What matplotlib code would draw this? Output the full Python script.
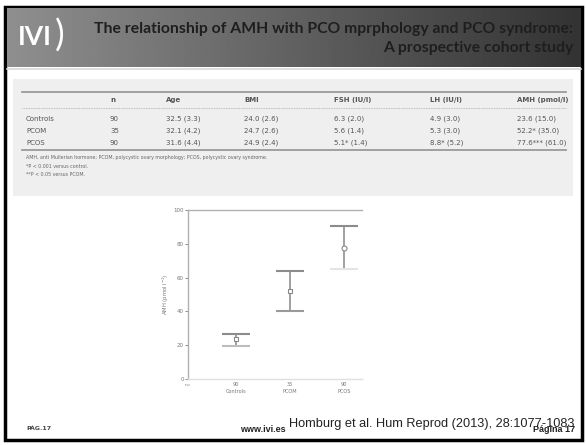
import numpy as np
import matplotlib
matplotlib.use("Agg")
import matplotlib.pyplot as plt
from matplotlib.patches import Rectangle

# ---- data ----
groups = ["Controls", "PCOM", "PCOS"]
n_values = ["90", "35", "90"]
age = ["32.5 (3.3)", "32.1 (4.2)", "31.6 (4.4)"]
bmi = ["24.0 (2.6)", "24.7 (2.6)", "24.9 (2.4)"]
fsh = ["6.3 (2.0)", "5.6 (1.4)", "5.1* (1.4)"]
lh = ["4.9 (3.0)", "5.3 (3.0)", "8.8* (5.2)"]
amh_txt = ["23.6 (15.0)", "52.2* (35.0)", "77.6*** (61.0)"]
col_headers = ["", "n", "Age", "BMI", "FSH (IU/l)", "LH (IU/l)", "AMH (pmol/l)"]

amh_median = [23.6, 52.2, 77.6]
amh_ci_low = [19.5, 40.0, 65.0]
amh_ci_high = [26.6, 64.0, 90.5]
y_ticks = [0, 20, 40, 60, 80, 100]

W, H = 586, 445
fig = plt.figure(figsize=(W / 100, H / 100), dpi=100)
bg = fig.add_axes([0, 0, 1, 1])
bg.set_xlim(0, W)
bg.set_ylim(H, 0)
bg.axis("off")

# slide frame
bg.add_patch(Rectangle((5, 7), 577, 433, facecolor="white", edgecolor="black", lw=2.5, zorder=0))

# header band with grey gradient
grad = np.linspace(0.56, 0.2, 256)[None, :]
bg.imshow(grad, cmap="gray", vmin=0, vmax=1, extent=(6.5, 580.5, 67, 8.5), aspect="auto", zorder=1)
bg.plot([6.5, 580.5], [68.5, 68.5], color="#d8d8d8", lw=1.2, zorder=2)

# logo
bg.text(18, 37, "IVI", color="white", fontsize=19, fontweight="bold", family="Lato",
        va="center", ha="left", zorder=3)
bg.text(55, 36, ")", color="white", fontsize=26, family="Lato", va="center", ha="left", zorder=3)

# title
bg.text(573, 29, "The relationship of AMH with PCO mprphology and PCO syndrome:",
        ha="right", va="center", fontsize=11.3, fontweight="bold", family="Lato", color="#1e1e1e", zorder=3)
bg.text(573, 48, "A prospective cohort study",
        ha="right", va="center", fontsize=11.3, fontweight="bold", family="Lato", color="#1e1e1e", zorder=3)

# table panel
bg.add_patch(Rectangle((13, 79), 560, 117, facecolor="#efefef", edgecolor="none", zorder=1))
bg.plot([22, 566], [92, 92], color="#9a9a9a", lw=1.3, zorder=2)
bg.plot([22, 566], [107.5, 107.5], color="#aaaaaa", lw=0.6, ls=(0, (1, 1)), zorder=2)
bg.plot([22, 566], [150, 150], color="#9a9a9a", lw=1.3, zorder=2)

col_x = [26, 110, 166, 244, 334, 430, 517]
tc = "#555555"
for x, h in zip(col_x, col_headers):
    bg.text(x, 100, h, fontsize=5, fontweight="bold", color=tc, va="center", ha="left", zorder=3)
rows_y = [119, 131, 143]
for i, y in enumerate(rows_y):
    vals = [groups[i], n_values[i], age[i], bmi[i], fsh[i], lh[i], amh_txt[i]]
    for x, v in zip(col_x, vals):
        bg.text(x, y, v, fontsize=5, color=tc, va="center", ha="left", zorder=3)

notes = ["AMH, anti Mullerian hormone; PCOM, polycystic ovary morphology; PCOS, polycystic ovary syndrome.",
         "*P < 0.001 versus control.",
         "**P < 0.05 versus PCOM."]
for k, t in enumerate(notes):
    bg.text(26, 158 + 8 * k, t, fontsize=3.4, color="#666666", va="center", ha="left", zorder=3)

# footer
bg.text(26, 428, "PÁG.17", fontsize=4.5, fontweight="bold", color="#444444", va="center", ha="left")
bg.text(240, 429, "www.ivi.es", fontsize=6.5, fontweight="bold", color="#222222",
        family="Liberation Sans", va="center", ha="left")
bg.text(289, 424, "Homburg et al. Hum Reprod (2013), 28:1077-1083", fontsize=9.2,
        color="#222222", family="Liberation Sans", va="center", ha="left")
bg.text(575, 429, "Página 17", fontsize=6.5, fontweight="bold", color="#222222",
        family="Liberation Sans", va="center", ha="right")

# AMH chart
x0, x1, ytop, ybot = 188, 362, 210, 379
ax = fig.add_axes([x0 / W, 1 - ybot / H, (x1 - x0) / W, (ybot - ytop) / H])
ax.set_facecolor("none")
xpos = np.arange(len(groups))
ax.set_xlim(-0.89, 2.33)
ax.set_ylim(0, 100)
ax.spines["right"].set_visible(False)
for s in ["left", "top", "bottom"]:
    ax.spines[s].set_color("#b0b0b0")
    ax.spines[s].set_linewidth(1.0)
ax.spines["bottom"].set_color("#e0e0e0")

ax.vlines(xpos, amh_ci_low, amh_ci_high, color="#a0a0a0", lw=1.4, zorder=2)
ax.hlines(amh_ci_high, xpos - 0.26, xpos + 0.26, color="#8c8c8c", lw=1.5, zorder=2)
low_colors = ["#bdbdbd", "#9a9a9a", "#e4e4e4"]
ax.hlines(amh_ci_low, xpos - 0.26, xpos + 0.26, colors=low_colors, lw=1.5, zorder=2)
ax.plot(xpos[:2], amh_median[:2], ls="none", marker="s", ms=3.2, mfc="white", mec="#888888", mew=0.8, zorder=3)
ax.plot(xpos[2:], amh_median[2:], ls="none", marker="o", ms=3.6, mfc="white", mec="#888888", mew=0.8, zorder=3)

ax.set_yticks(y_ticks)
ax.set_yticklabels([str(v) for v in y_ticks], fontsize=4, color="#777777")
ax.set_xticks(xpos)
ax.set_xticklabels([f"{n}\n{g}" for n, g in zip(n_values, groups)], fontsize=3.6,
                   color="#777777", linespacing=1.6)
ax.tick_params(axis="y", length=2, width=0.6, color="#777777", pad=1)
ax.tick_params(axis="x", length=0, pad=2)
ax.set_ylabel("AMH (pmol l$^{-1}$)", fontsize=3.8, color="#777777", labelpad=2)
ax.text(-0.89, -2.5, "n=", fontsize=3.2, color="#777777", ha="center", va="top")

fig.savefig("out.png", dpi=100)
